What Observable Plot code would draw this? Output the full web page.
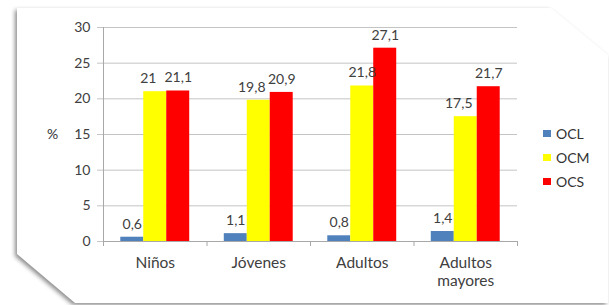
<!DOCTYPE html>
<html><head><meta charset="utf-8">
<script src="https://cdn.jsdelivr.net/npm/d3@7"></script>
<script src="https://cdn.jsdelivr.net/npm/@observablehq/plot@0.6"></script>
<style>
body{margin:0;background:#fff;}
#wrap{position:relative;width:609px;height:305px;overflow:hidden;font-family:Lato, sans-serif;}
#shadow{position:absolute;left:0;top:0;width:609px;height:305px;filter:drop-shadow(-2px 2px 2px rgba(0,0,0,0.45));}
#card{position:absolute;left:0;top:0;width:609px;height:305px;background:#fff;clip-path:polygon(17px 8px,551px 8px,608px 55px,608px 303px,75px 303px,17px 254px);}
#chart{position:absolute;left:0;top:0;}
#legend{position:absolute;left:543px;top:121px;font-size:14px;color:#333;}
.item{display:flex;align-items:center;height:24px;}
.sw{width:8px;height:7px;margin-right:5px;}
</style></head>
<body>
<div id="wrap">
  <div id="shadow"><div id="card"></div></div>
  <div id="chart"></div>
  <div id="legend"></div>
</div>
<script>
const categories = ["Niños", "Jóvenes", "Adultos", "Adultos\nmayores"];
const series = ["OCL", "OCM", "OCS"];
const colors = ["#4F81BD", "#FFFF00", "#FF0000"];
const OCL = [0.6, 1.1, 0.8, 1.4];
const OCM = [21, 19.8, 21.8, 17.5];
const OCS = [21.1, 20.9, 27.1, 21.7];
const yTicks = [0, 5, 10, 15, 20, 25, 30];
const yLabel = "%";

const values = [OCL, OCM, OCS];
const rows = categories.flatMap((c, i) => series.map((s, j) => ({i, j, cat: c, series: s, value: values[j][i]})));
const barW = 0.222;
const groupStart = (1 - 3 * barW) / 2;
const fmt = v => String(v).replace(".", ",");
const boundaries = d3.range(categories.length + 1);
const centers = categories.map((c, i) => i + 0.5);
// labels of a bar whose right neighbour is of similar height get nudged left (collision avoidance)
const crowded = d => d.j < series.length - 1 && d.j > 0 && Math.abs(values[d.j + 1][d.i] - d.value) < 5;

const labelX = d => d.i + groupStart + (d.j + 0.5) * barW;

const chart = Plot.plot({
  width: 609, height: 305,
  marginLeft: 103, marginRight: 92, marginTop: 27, marginBottom: 64,
  style: {background: "transparent", fontFamily: "Lato, sans-serif", fontSize: "14px", color: "#404040"},
  x: {domain: [0, categories.length], axis: null},
  y: {domain: [0, 30], axis: null},
  color: {domain: series, range: colors},
  marks: [
    Plot.gridY(yTicks, {stroke: "#c4c4c4", strokeOpacity: 1}),
    Plot.axisY(yTicks, {tickSize: 6, tickPadding: 7, stroke: "#c4c4c4", label: null}),
    Plot.ruleX([0], {stroke: "#a8a8a8"}),
    Plot.ruleY([0], {stroke: "#a8a8a8"}),
    Plot.axisX(boundaries, {tickSize: 5, tickFormat: () => "", stroke: "#a8a8a8", label: null}),
    Plot.axisX(centers, {tickSize: 0, tickPadding: 14, tickFormat: d => categories[Math.floor(d)], label: null, lineHeight: 1.15, fontSize: 15.5}),
    Plot.rect(rows, {
      x1: d => d.i + groupStart + d.j * barW,
      x2: d => d.i + groupStart + (d.j + 1) * barW,
      y1: 0, y2: "value", fill: "series"
    }),
    Plot.text(rows.filter(d => !crowded(d)), {
      x: labelX, y: "value", text: d => fmt(d.value), dy: -13, fill: "#404040"
    }),
    Plot.text(rows.filter(crowded), {
      x: labelX, y: "value", text: d => fmt(d.value), dy: -13, dx: -7, fill: "#404040"
    }),
    Plot.text([yLabel], {text: d => d, frameAnchor: "left", textAnchor: "middle", dx: -51, fill: "#333"})
  ]
});
document.getElementById("chart").appendChild(chart);

const legend = document.getElementById("legend");
series.forEach((s, j) => {
  const item = document.createElement("div");
  item.className = "item";
  item.innerHTML = `<span class="sw" style="background:${colors[j]}"></span><span>${s}</span>`;
  legend.appendChild(item);
});
</script>
</body></html>
